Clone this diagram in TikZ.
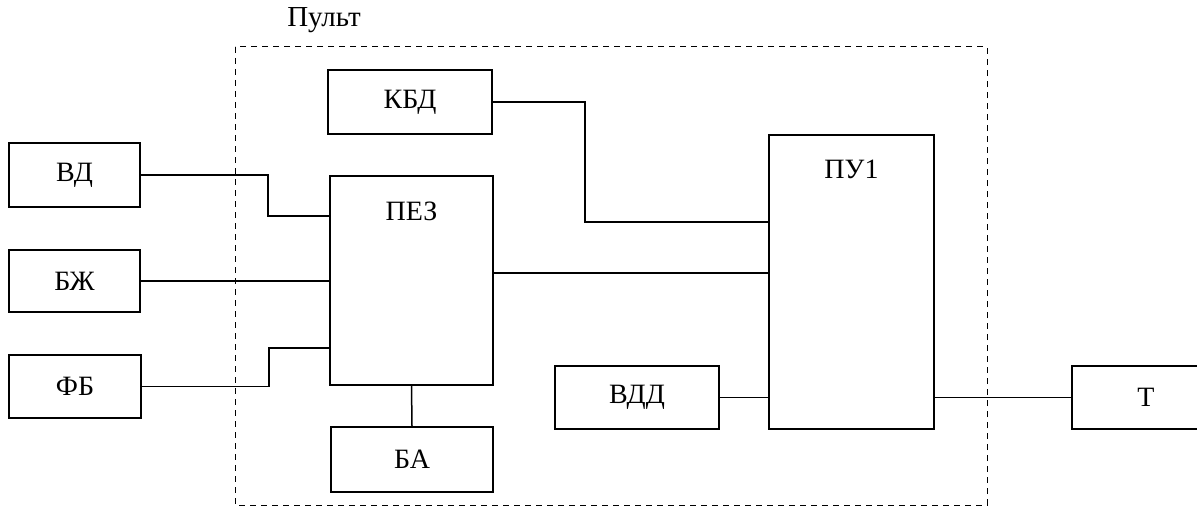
\documentclass[tikz,border=0pt]{standalone}
\usepackage{fontspec}
\setmainfont{Liberation Serif}

\begin{document}
\begin{tikzpicture}[x=0.5pt, y=-0.5pt, font=\fontsize{14}{16}\selectfont,
    blok/.style={draw, line width=0.8pt, inner sep=0pt},
    svyaz/.style={line width=0.75pt}]

        \useasboundingbox (0,0) rectangle (1197,508);
        \clip (0,0) rectangle (1197,508);

        % Pult frame (dashed)
        \draw[dash pattern=on 3pt off 2.5pt, line width=0.5pt] (235,47) rectangle (987,505);
        \node[font=\fontsize{14.5}{16}\selectfont] (pult) at (324,20) {Пульт};

        % Blocks outside the pult
        \node[blok, minimum width=65.5pt, minimum height=32pt] (VD) at (74.5,175) {ВД};
        \node[blok, minimum width=65.5pt, minimum height=31pt] (BZh) at (74.5,281) {БЖ};
        \node[blok, minimum width=66pt, minimum height=31.5pt] (FB) at (75,386.5) {ФБ};
        \node[blok, minimum width=74pt, minimum height=31.5pt] (T) at (1146,397.5) {Т};

        % Blocks inside the pult
        \node[blok, minimum width=82pt, minimum height=32pt] (KBD) at (410,102) {КБД};
        \node[blok, minimum width=81.5pt, minimum height=104.5pt,
              label={[anchor=center, yshift=-18pt]north:ПЕЗ}] (PEZ) at (411.5,280.5) {};
        \node[blok, minimum width=81pt, minimum height=32.5pt] (BA) at (412,459.5) {БА};
        \node[blok, minimum width=82.5pt, minimum height=147pt,
              label={[anchor=center, yshift=-17.5pt]north:ПУ1}] (PU1) at (851.5,282) {};
        \node[blok, minimum width=82pt, minimum height=31.5pt] (VDD) at (637,397.5) {ВДД};

        % Connections to PEZ
        \draw[svyaz] (VD.east) -| (268,216) -- (PEZ.west |- 0,216);
        \draw[svyaz] (BZh.east) -- (PEZ.west |- BZh.east);
        \draw[svyaz] (FB.east) -| (269,348) -- (PEZ.west |- 0,348);
        \draw[svyaz] (PEZ.south) -- (BA.north);

        % Connections to PU1
        \draw[svyaz] (KBD.east) -| (585,222) -- (PU1.west |- 0,222);
        \draw[svyaz] (PEZ.east |- 0,273) -- (PU1.west |- 0,273);
        \draw[svyaz] (VDD.east) -- (PU1.west |- VDD.east);
        \draw[svyaz] (PU1.east |- T.west) -- (T.west);

    \end{tikzpicture}
\end{document}
